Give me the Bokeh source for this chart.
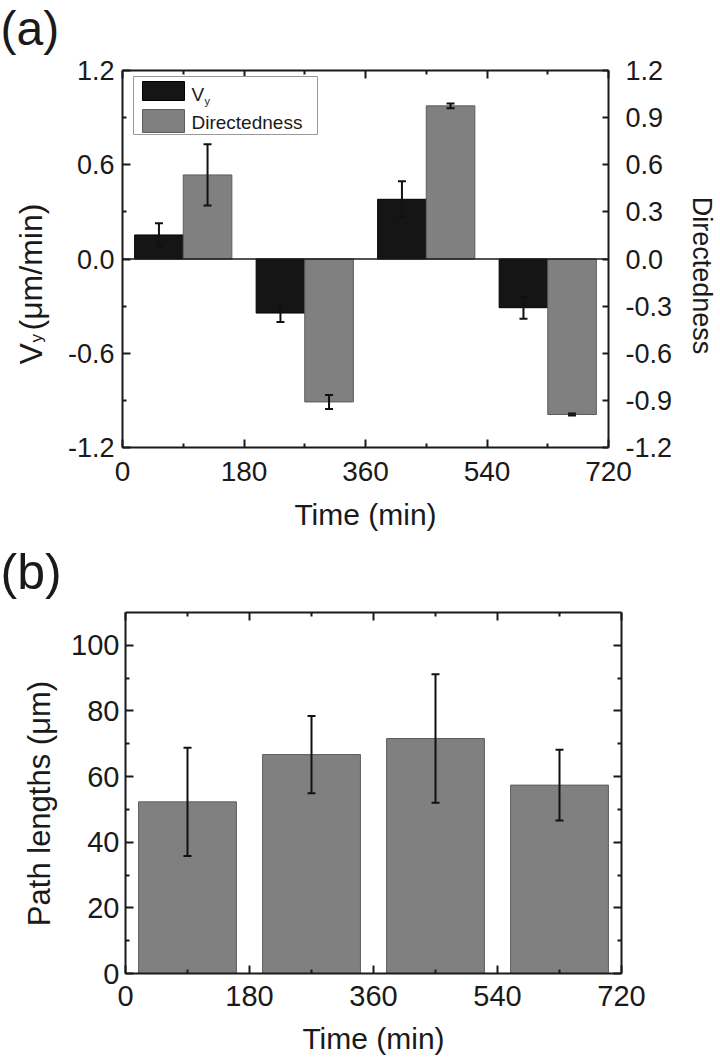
import math
from bokeh.plotting import figure
from bokeh.models import (ColumnDataSource, Range1d, LinearAxis, FixedTicker, Whisker,
                          TeeHead, Span, Label, BoxAnnotation, PrintfTickFormatter)
from bokeh.layouts import column, row
from bokeh.embed import file_html
from bokeh.resources import INLINE

# ---------------- data ----------------
time_centers = [90, 270, 450, 630]
vy_values = [0.153, -0.344, 0.38, -0.31]
vy_errors = [0.075, 0.057, 0.115, 0.07]
dir_values = [0.535, -0.91, 0.975, -0.99]
dir_errors = [0.195, 0.045, 0.015, 0.006]
path_values = [52.3, 66.7, 71.6, 57.4]
path_errors = [16.5, 11.8, 19.6, 10.8]

x_ticks = [0, 180, 360, 540, 720]
x_minor = [90, 270, 450, 630]
vy_ticks = [-1.2, -0.6, 0.0, 0.6, 1.2]
vy_minor = [-0.9, -0.3, 0.3, 0.9]
dir_ticks = [-1.2, -0.9, -0.6, -0.3, 0.0, 0.3, 0.6, 0.9, 1.2]
path_ticks = [0, 20, 40, 60, 80, 100]
path_minor = [10, 30, 50, 70, 90]

FONT = "Liberation Sans"
INK = "#1a1a1a"
BLACK_BAR = "#151515"
GREY_BAR = "#808080"
GREY_EDGE = "#5c5c5c"
TOTAL_W, TOTAL_H = 718, 1057
HA = 540
HB = TOTAL_H - HA
LW = 64          # width of left title strip
RW = 34          # width of right title strip (panel a)
BAR_A = 72
BAR_B = 142
BASE_K = 0.34    # measured anchor-to-baseline offset of rendered labels (fraction of font size)


def make_axis(ticks, minor, labels=True, size="26px", standoff=8, fmt=None,
              tick_in=8, minor_in=4, y_range_name=None):
    kw = {}
    if y_range_name:
        kw["y_range_name"] = y_range_name
    ax = LinearAxis(ticker=FixedTicker(ticks=ticks, minor_ticks=minor), **kw)
    if fmt:
        ax.formatter = PrintfTickFormatter(format=fmt)
    ax.axis_line_width = 2
    ax.axis_line_color = INK
    ax.major_tick_line_width = 2
    ax.major_tick_line_color = INK
    ax.minor_tick_line_width = 2
    ax.minor_tick_line_color = INK
    ax.major_tick_in = tick_in
    ax.major_tick_out = 0
    ax.minor_tick_in = minor_in
    ax.minor_tick_out = 0
    ax.major_label_text_font = FONT
    if labels:
        ax.major_label_text_color = INK
        ax.major_label_text_font_size = size
        ax.major_label_standoff = standoff
    else:
        ax.major_label_text_color = None
        ax.major_label_text_font_size = "1px"
        ax.major_label_standoff = 0
    ax.axis_label_text_font = FONT
    ax.axis_label_text_color = INK
    ax.axis_label_text_font_style = "normal"
    return ax


def add_label(p, x, y, text, size, angle=0.0, align="left"):
    """Place text so that its baseline passes through (x, y) (screen units)."""
    shift = BASE_K * size
    if angle == 0.0:
        y = y + shift
    elif angle > 0:     # reads bottom-to-top: glyph 'down' points right
        x = x - shift
    else:               # reads top-to-bottom: glyph 'down' points left
        x = x + shift
    p.add_layout(Label(x=x, y=y, x_units="screen", y_units="screen", text=text,
                       text_font=FONT, text_font_size=f"{size}px", text_color=INK,
                       angle=angle, text_align=align, text_baseline="alphabetic"))


def strip(width, height):
    s = figure(width=width, height=height, x_range=Range1d(0, 1), y_range=Range1d(0, 1),
               output_backend="svg", toolbar_location=None,
               x_axis_location=None, y_axis_location=None, min_border=0)
    s.outline_line_color = None
    s.xgrid.grid_line_color = None
    s.ygrid.grid_line_color = None
    return s


def no_grid(p):
    p.xgrid.grid_line_color = None
    p.ygrid.grid_line_color = None


# ---------------- panel (a) ----------------
pa = figure(width=TOTAL_W - LW - RW, height=HA, x_range=Range1d(0, 720), y_range=Range1d(-1.2, 1.2),
            output_backend="svg", toolbar_location=None,
            x_axis_location=None, y_axis_location=None,
            min_border_left=58, min_border_right=TOTAL_W - LW - RW - 544,
            min_border_top=70, min_border_bottom=93)
pa.extra_y_ranges = {"dir": Range1d(-1.2, 1.2)}
pa.outline_line_color = None
no_grid(pa)

src_a = ColumnDataSource(dict(
    vy_x=[t - BAR_A / 2 for t in time_centers],
    dir_x=[t + BAR_A / 2 for t in time_centers],
    vy=vy_values,
    vy_lo=[v - e for v, e in zip(vy_values, vy_errors)],
    vy_hi=[v + e for v, e in zip(vy_values, vy_errors)],
    dr=dir_values,
    dr_lo=[v - e for v, e in zip(dir_values, dir_errors)],
    dr_hi=[v + e for v, e in zip(dir_values, dir_errors)],
))

pa.vbar(x="vy_x", top="vy", bottom=0, width=BAR_A, source=src_a,
        fill_color=BLACK_BAR, line_color="#000000", line_width=1)
pa.vbar(x="dir_x", top="dr", bottom=0, width=BAR_A, source=src_a, y_range_name="dir",
        fill_color=GREY_BAR, line_color=GREY_EDGE, line_width=1)

pa.add_layout(Span(location=0, dimension="width", line_color=INK, line_width=1.5))

for base, lo, hi, rn in (("vy_x", "vy_lo", "vy_hi", "default"), ("dir_x", "dr_lo", "dr_hi", "dir")):
    pa.add_layout(Whisker(source=src_a, base=base, lower=lo, upper=hi, dimension="height",
                          line_width=2, line_color="#111111", level="overlay", y_range_name=rn,
                          upper_head=TeeHead(size=8, line_width=2, line_color="#111111"),
                          lower_head=TeeHead(size=8, line_width=2, line_color="#111111")))

pa.add_layout(make_axis(vy_ticks, vy_minor, size="27px", standoff=8, fmt="%.1f"), "left")
pa.add_layout(make_axis(dir_ticks, [], size="27px", standoff=17, fmt="%.1f",
                        tick_in=6, y_range_name="dir"), "right")
xa = make_axis(x_ticks, x_minor, size="28px", standoff=14, fmt="%d")
xa.axis_label = "Time (min)"
xa.axis_label_text_font_size = "30px"
xa.axis_label_standoff = 14
pa.add_layout(xa, "below")
pa.add_layout(make_axis(x_ticks, x_minor, labels=False), "above")

# legend
def screen_box(left, right, top, bottom, fill, line):
    return BoxAnnotation(left=left, right=right, top=top, bottom=bottom,
                         left_units="screen", right_units="screen",
                         top_units="screen", bottom_units="screen",
                         fill_color=fill, fill_alpha=1.0,
                         line_color=line, line_alpha=1.0, line_width=1)

pa.add_layout(screen_box(11, 195, 371, 313, "white", "#9a9a9a"))
pa.add_layout(screen_box(20, 62, 366, 347, BLACK_BAR, "#000000"))
pa.add_layout(screen_box(20, 62, 338, 315, GREY_BAR, GREY_EDGE))
add_label(pa, 69, 347, "V", 19)
add_label(pa, 82, 343, "y", 11)
add_label(pa, 69, 319, "Directedness", 19)

# right strip of (a): secondary y title (frame aligned with panel a's frame, bottom at y=447)
ra = strip(RW, HA)
add_label(ra, 8, 447 - 275, "Directedness", 27, angle=-math.pi / 2, align="center")

# ---------------- panel (b) ----------------
pb = figure(width=TOTAL_W - LW, height=HB, x_range=Range1d(0, 720), y_range=Range1d(0, 110),
            output_backend="svg", toolbar_location=None,
            x_axis_location=None, y_axis_location=None,
            min_border_left=61, min_border_right=97, min_border_top=72, min_border_bottom=HB - 434)
pb.outline_line_color = None
no_grid(pb)

src_b = ColumnDataSource(dict(
    t=time_centers,
    path=path_values,
    lo=[v - e for v, e in zip(path_values, path_errors)],
    hi=[v + e for v, e in zip(path_values, path_errors)],
))
pb.vbar(x="t", top="path", bottom=0, width=BAR_B, source=src_b,
        fill_color=GREY_BAR, line_color=GREY_EDGE, line_width=1)
pb.add_layout(Whisker(source=src_b, base="t", lower="lo", upper="hi", dimension="height",
                      line_width=2, line_color="#111111", level="overlay",
                      upper_head=TeeHead(size=8, line_width=2, line_color="#111111"),
                      lower_head=TeeHead(size=8, line_width=2, line_color="#111111")))

pb.add_layout(make_axis(path_ticks, path_minor, size="29px", standoff=6, fmt="%d"), "left")
pb.add_layout(make_axis(path_ticks, path_minor, labels=False), "right")
xb = make_axis(x_ticks, x_minor, size="29px", standoff=12, fmt="%d")
xb.axis_label = "Time (min)"
xb.axis_label_text_font_size = "30px"
xb.axis_label_standoff = 13
pb.add_layout(xb, "below")
pb.add_layout(make_axis(x_ticks, x_minor, labels=False), "above")

# full-height left strip: panel letters and left y titles (page coordinates)
ls = strip(LW, TOTAL_H)
add_label(ls, 0, TOTAL_H - 44, "(a)", 48)
add_label(ls, 41, TOTAL_H - 364, "V", 32, angle=math.pi / 2)
add_label(ls, 42, TOTAL_H - 342, "y", 17, angle=math.pi / 2)
add_label(ls, 41, TOTAL_H - 330, "(\u03bcm/min)", 32, angle=math.pi / 2)
add_label(ls, 0, TOTAL_H - 588, "(b)", 50)
add_label(ls, 50, TOTAL_H - 803, "Path lengths (\u03bcm)", 31, angle=math.pi / 2, align="center")

layout = row(ls, column(row(pa, ra), pb))
open("out.html", "w").write(file_html(layout, INLINE))
